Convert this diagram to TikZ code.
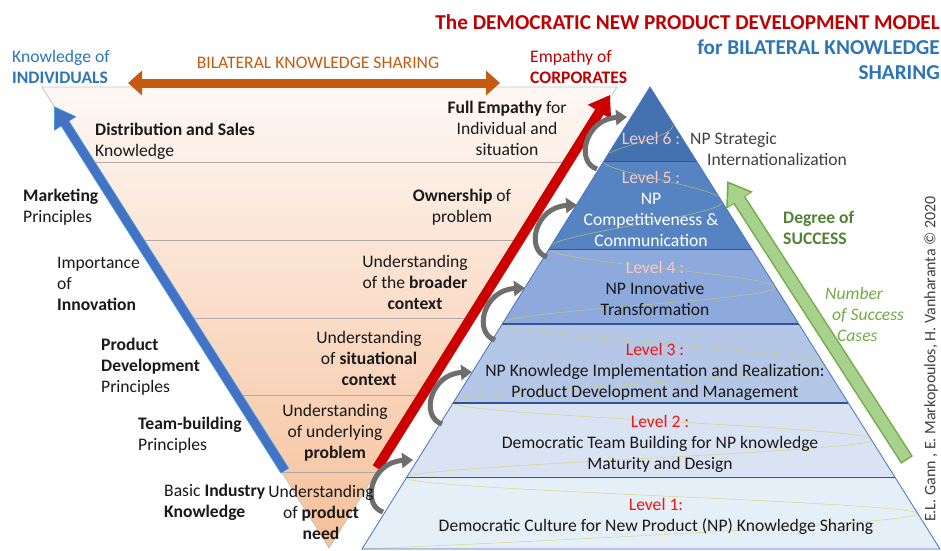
\documentclass[tikz,border=0pt]{standalone}
\usepackage{fontspec}
\setmainfont{Carlito}
\usetikzlibrary{arrows.meta,calc}
\definecolor{titlered}{RGB}{192,0,0}
\definecolor{empred}{RGB}{204,0,0}
\definecolor{knowblue}{RGB}{46,117,182}
\definecolor{barblue}{RGB}{68,114,196}
\definecolor{barrim}{RGB}{80,170,230}
\definecolor{shareorange}{RGB}{197,90,17}
\definecolor{peachtop}{RGB}{254,248,245}
\definecolor{peachbot}{RGB}{246,192,153}
\definecolor{funnelgray}{RGB}{195,195,195}
\definecolor{bandgray}{RGB}{175,170,168}
\definecolor{edgeblue}{RGB}{68,114,196}
\definecolor{sepblue}{RGB}{47,85,151}
\definecolor{lvsix}{RGB}{68,114,176}
\definecolor{lvfive}{RGB}{86,132,194}
\definecolor{lvfour}{RGB}{142,169,219}
\definecolor{lvthree}{RGB}{180,199,231}
\definecolor{lvtwo}{RGB}{218,227,243}
\definecolor{lvone}{RGB}{228,239,248}
\definecolor{lvpink}{RGB}{246,200,200}
\definecolor{lvred}{RGB}{240,20,20}
\definecolor{succgreen}{RGB}{84,130,53}
\definecolor{casegreen}{RGB}{112,173,71}
\definecolor{arrowgreen}{RGB}{169,209,142}
\definecolor{loopgray}{RGB}{110,110,110}
\definecolor{spiralyellow}{RGB}{215,210,80}
\definecolor{notegray}{RGB}{64,64,64}
\definecolor{ink}{RGB}{25,25,25}

\begin{document}
\begin{tikzpicture}[x=1pt,y=-1pt,
  txt/.style={inner sep=0pt, text=ink, font=\fontsize{17.6}{21}\selectfont},
  bandline/.style={draw=bandgray, line width=.8pt},
  spiralline/.style={draw=spiralyellow, line width=.5pt, draw opacity=.75},
  turnarrow/.style={loopgray, line width=5pt, -{Triangle[width=15pt,length=11pt]}}]
\useasboundingbox (0,0) rectangle (941,550);
\fill[white] (0,0) rectangle (941,550);

\coordinate (ftl) at (42,87);
\coordinate (ftr) at (617,87);
\coordinate (fbot) at (329,548);
\shade[top color=peachtop, bottom color=peachbot] (ftl) -- (ftr) -- (fbot) -- cycle;
\foreach \f in {.163,.332,.503,.668,.835}
  \draw[bandline] ($(ftl)!\f!(fbot)$) -- ($(ftr)!\f!(fbot)$);
\draw[funnelgray, line width=.8pt] (ftl) -- (ftr) -- (fbot) -- cycle;

\coordinate (apex) at (650,87);
\coordinate (pl) at (362,549);
\coordinate (pr) at (940,549);
\foreach \a/\b/\c in {0/.162/lvsix,.162/.351/lvfive,.351/.513/lvfour,.513/.684/lvthree,.684/.846/lvtwo,.846/1/lvone}
  \fill[\c] ($(apex)!\a!(pl)$) -- ($(apex)!\a!(pr)$) -- ($(apex)!\b!(pr)$) -- ($(apex)!\b!(pl)$) -- cycle;
\begin{scope}
\clip (apex) -- (pr) -- (pl) -- cycle;
\draw[spiralline] plot[smooth, tension=.6] coordinates {(650,87) (672,128) (603,162) (722,203) (549,249) (775,288) (502,324) (825,365) (453,403) (873,440) (406,478) (918,514) (362,549)};
\end{scope}
\foreach \f in {.162,.351,.513,.684,.846}
  \draw[sepblue, line width=1.2pt] ($(apex)!\f!(pl)$) -- ($(apex)!\f!(pr)$);
\draw[edgeblue, line width=.8pt] (apex) -- (pr) -- (pl) -- cycle;

\coordinate (kn0) at (285,471);
\coordinate (kn1) at (54,106);
\draw[barrim, line width=10pt, -{Triangle[width=25pt,length=21pt]}] (kn0) -- (kn1);
\draw[barblue, line width=8.5pt, -{Triangle[width=23pt,length=19pt]}] ($(kn0)!.8pt!(kn1)$) -- ($(kn1)!1.5pt!(kn0)$);
\coordinate (em0) at (377,468);
\coordinate (em1) at (610,95);
\draw[empred, line width=10pt, -{Triangle[width=26pt,length=20pt]}] (em0) -- (em1);
\coordinate (sh0) at (128,83);
\coordinate (sh1) at (500,83);
\draw[shareorange, line width=9pt, {Triangle[width=24pt,length=14pt]}-{Triangle[width=24pt,length=14pt]}] (sh0) -- (sh1);
\coordinate (su0) at (907,460);
\coordinate (su1) at (727,181);
\draw[casegreen, line width=14pt, -{Triangle[width=30pt,length=23pt]}] (su0) -- (su1);
\draw[arrowgreen, line width=11pt, -{Triangle[width=25pt,length=19pt]}] ($(su0)!1.5pt!(su1)$) -- ($(su1)!3pt!(su0)$);

\foreach \hx/\hy [count=\i] in {413/460,472/372,525/288,577/205,627/117}{
  \coordinate (tip\i) at (\hx,\hy);
  \coordinate (tail\i) at ($(tip\i)+(-30,52)$);
  \draw[turnarrow] (tail\i) .. controls +(-22,-7) and +(-42,2) .. (tip\i);
}

\node[txt, anchor=east, align=right, font=\fontsize{21.2}{25}\selectfont\bfseries] (title) at (940,47.5)
  {\color{titlered}The DEMOCRATIC NEW PRODUCT DEVELOPMENT MODEL\\\color{knowblue}for BILATERAL KNOWLEDGE\\\color{knowblue}SHARING};
\node[txt, anchor=west, align=left, text=knowblue] (indiv) at (12,67) {Knowledge of\\\textbf{INDIVIDUALS}};
\node[txt, anchor=west, align=left, text=titlered] (corp) at (530,67) {Empathy of\\\textbf{CORPORATES}};
\node[txt, text=shareorange] (sharelbl) at (318,63) {BILATERAL KNOWLEDGE SHARING};

\node[txt, anchor=west, align=left] (distrib) at (95,141) {\textbf{Distribution and Sales}\\Knowledge};
\node[txt, anchor=west, align=left] (market) at (23,207) {\textbf{Marketing}\\Principles};
\node[txt, anchor=west, align=left] (innov) at (57,284) {Importance\\of\\\textbf{Innovation}};
\node[txt, anchor=west, align=left] (proddev) at (101,367) {\textbf{Product}\\\textbf{Development}\\Principles};
\node[txt, anchor=west, align=left] (team) at (138,435) {\textbf{Team-building}\\Principles};
\node[txt, anchor=west, align=left] (basic) at (164,502) {Basic \textbf{Industry}\\\textbf{Knowledge}};

\node[txt, align=center] (fullemp) at (507,128) {\textbf{Full Empathy} for\\Individual and\\situation};
\node[txt, align=center] (owner) at (462,207) {\textbf{Ownership} of\\problem};
\node[txt, align=center] (broader) at (415,282) {Understanding\\of the \textbf{broader}\\\textbf{context}};
\node[txt, align=center] (situ) at (369,358) {Understanding\\of \textbf{situational}\\\textbf{context}};
\node[txt, align=center] (underly) at (335,433) {Understanding\\of underlying\\\textbf{problem}};
\node[txt, align=center] (need) at (321,512) {Understanding\\of \textbf{product}\\\textbf{need}};

\node[txt, text=lvpink] (lvsix) at (651,138) {Level 6 :};
\node[txt, anchor=west, align=left, text=notegray] (strat) at (690,149) {NP Strategic\\\hspace{17pt}Internationalization};
\node[txt, align=center, text=white] (lvfive) at (651,209) {\color{lvpink}Level 5 :\\NP\\Competitiveness \&\\Communication};
\node[txt, align=center] (lvfour) at (655,288) {\color{lvpink}Level 4 :\\NP Innovative\\Transformation};
\node[txt, align=center] (lvthree) at (655,372) {\color{lvred}Level 3 :\\NP Knowledge Implementation and Realization:\\Product Development and Management};
\node[txt, align=center] (lvtwo) at (660,444) {\color{lvred}Level 2 :\\Democratic Team Building for NP knowledge\\Maturity and Design};
\node[txt, align=center] (lvone) at (656,516) {\color{lvred}Level 1:\\Democratic Culture for New Product (NP) Knowledge Sharing};

\node[txt, anchor=west, align=left, text=succgreen, font=\fontsize{17.6}{21}\selectfont\bfseries] (degree) at (783,228) {Degree of\\SUCCESS};
\node[txt, anchor=west, align=left, text=casegreen, font=\fontsize{17.6}{21}\selectfont\itshape] (cases) at (825,314) {Number\\\hspace{7pt}of Success\\\hspace{12pt}Cases};
\node[txt, rotate=90, text=notegray, font=\fontsize{16}{18}\selectfont] (credit) at (931,359) {E.L. Gann , E. Markopoulos, H. Vanharanta © 2020};
\end{tikzpicture}
\end{document}
